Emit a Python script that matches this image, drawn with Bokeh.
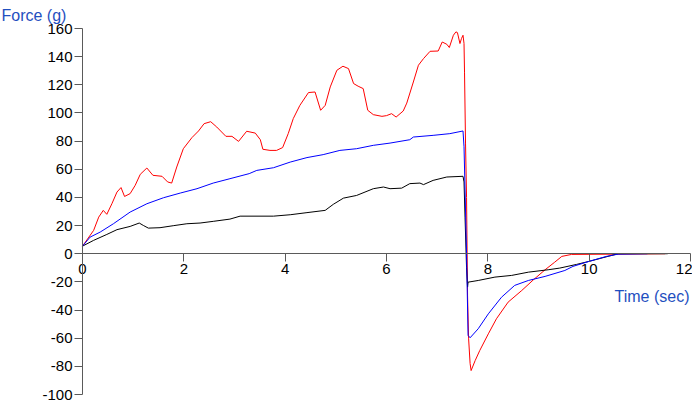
from bokeh.plotting import figure
from bokeh.models import Range1d, SingleIntervalTicker, Label, PrintfTickFormatter
from bokeh.embed import file_html
from bokeh.resources import INLINE

# ---- data (time in sec, force in g) ----
red_t = [0, 0.22, 0.32, 0.41, 0.48, 0.58, 0.68, 0.76, 0.83, 0.94,
         1.04, 1.14, 1.27, 1.39, 1.57, 1.68, 1.76, 1.86, 1.99, 2.16,
         2.29, 2.40, 2.53, 2.65, 2.83, 2.95, 3.08, 3.24, 3.41, 3.51,
         3.56, 3.70, 3.83, 3.95, 4.06, 4.16, 4.29, 4.46, 4.59, 4.70,
         4.79, 4.89, 5.02, 5.14, 5.25, 5.35, 5.44, 5.54, 5.63, 5.74,
         5.91, 6.00, 6.10, 6.19, 6.33, 6.40, 6.53, 6.63, 6.73, 6.86,
         7.02, 7.10, 7.19, 7.24, 7.32, 7.37, 7.40, 7.45, 7.48, 7.51,
         7.53, 7.54, 7.56, 7.58, 7.60, 7.62, 7.65, 7.67, 7.75, 7.84,
         8.01, 8.17, 8.40, 8.67, 8.90, 9.13, 9.32, 9.46, 9.65, 10.54,
         11.5]
red_f = [5.4, 16.6, 26, 30.8, 28, 35.5, 43.8, 47, 40.7, 42.7,
         48.6, 56.4, 60.9, 55.7, 55, 51, 50.2, 61.6, 74.6, 82.5,
         87.2, 92.4, 93.8, 90, 83.4, 83.4, 79.8, 87, 85.7, 81,
         74.2, 73.4, 73.4, 75.4, 85.3, 96, 105.4, 114.5, 114.9, 101.9,
         105.4, 118.5, 130.3, 133.2, 131.5, 120.9, 119, 117.3, 101.9, 98.8,
         97.6, 98.1, 99.5, 97.1, 101.4, 107, 122, 133.9, 138.6, 143.8,
         144, 150.4, 148.8, 146.5, 155.2, 157.6, 157.1, 149.3, 152.9, 155.2,
         149.3, 129, 78, 40, -30, -60, -78, -83, -75.9, -68.8,
         -56.9, -46.2, -34.4, -26.1, -18.5, -11.4, -6, -1.9, -0.5, -0.3,
         0]

blue_t = [0, 0.15, 0.35, 0.61, 0.94, 1.27, 1.60, 1.93, 2.26, 2.58,
          2.91, 3.29, 3.44, 3.77, 4.10, 4.43, 4.75, 5.08, 5.41, 5.74,
          6.07, 6.46, 6.53, 6.92, 7.25, 7.51, 7.53, 7.58, 7.61, 7.65,
          7.81, 8.01, 8.27, 8.53, 8.80, 9.13, 9.52, 9.68, 10.01, 10.34,
          10.57, 11.15]
blue_f = [5.4, 11.8, 15.4, 21.3, 29.6, 35.5, 39.8, 43.1, 46.2, 50.2,
          53.3, 56.9, 59.2, 61.1, 65.1, 68.3, 70.4, 73.4, 74.6, 77,
          78.6, 81, 82.9, 84.1, 85.3, 87.2, 76, 0, -58, -59.7,
          -53.3, -42.7, -30.9, -22.5, -19, -16.1, -11.9, -9, -5.3, -1.9,
          -0.3, 0]

black_t = [0, 0.22, 0.48, 0.68, 0.94, 1.12, 1.20, 1.30, 1.53, 1.79,
           2.06, 2.32, 2.58, 2.91, 3.11, 3.77, 4.10, 4.43, 4.79, 4.95,
           5.15, 5.41, 5.74, 5.94, 6.07, 6.30, 6.46, 6.66, 6.73, 6.92,
           7.19, 7.51, 7.53, 7.55, 7.58, 7.60, 7.61, 7.81, 8.14, 8.47,
           8.80, 9.19, 9.42, 9.75, 10.01, 10.57, 11.55]
black_f = [5.4, 9.5, 13.7, 17.1, 19.4, 21.8, 20.1, 18.2, 18.5, 19.9,
           21.3, 21.8, 23, 24.6, 26.7, 26.7, 27.7, 29.2, 30.8, 35.1,
           39.5, 41.4, 46.2, 47.4, 46.2, 46.6, 49.8, 50.2, 49.1, 52.1,
           54.5, 55, 51, 26, -10, -23.7, -20.2, -19, -16.6, -15.4,
           -13.1, -11.4, -10.2, -7.6, -5.3, 0, 0]

x_title = "Time (sec)"
y_title = "Force (g)"
x_axis_span = (0, 12)
y_axis_span = (-100, 160)

FONT = "Liberation Sans"
TITLE_BLUE = "#1f4fc0"
AXIS_GRAY = "#5a5a5a"

# layout: plotting area in pixels (axes cross at the origin)
W, H = 692, 404
LEFT, RIGHT, TOP, BOTTOM = 82, 2, 28, 10
sx = (W - LEFT - RIGHT) / (x_axis_span[1] - x_axis_span[0])
sy = (H - TOP - BOTTOM) / (y_axis_span[1] - y_axis_span[0])

p = figure(width=W, height=H,
           x_range=Range1d(x_axis_span[0] - LEFT / sx, x_axis_span[1] + RIGHT / sx),
           y_range=Range1d(y_axis_span[0] - BOTTOM / sy, y_axis_span[1] + TOP / sy),
           output_backend="svg", toolbar_location=None,
           min_border_left=0, min_border_right=0,
           min_border_top=0, min_border_bottom=0)

p.xgrid.visible = False
p.ygrid.visible = False
p.outline_line_color = None
p.background_fill_color = "white"
p.border_fill_color = "white"

p.line(red_t, red_f, line_color="#ff0000", line_width=1)
p.line(black_t, black_f, line_color="#000000", line_width=1)
p.line(blue_t, blue_f, line_color="#0000ff", line_width=1)

for ax, span in ((p.xaxis[0], x_axis_span), (p.yaxis[0], y_axis_span)):
    ax.fixed_location = 0
    ax.bounds = span
    ax.axis_line_color = AXIS_GRAY
    ax.major_tick_line_color = AXIS_GRAY
    ax.minor_tick_line_color = None
    ax.major_tick_in = 0
    ax.major_tick_out = 8
    ax.major_label_text_font = FONT
    ax.major_label_text_font_size = "15px"
    ax.major_label_text_color = "black"
    ax.major_label_standoff = 2
    ax.formatter = PrintfTickFormatter(format="%d")

p.xaxis[0].ticker = SingleIntervalTicker(interval=2)
p.yaxis[0].ticker = SingleIntervalTicker(interval=20)
p.xaxis[0].major_label_text_align = "right"

p.add_layout(Label(x=1, y=H - 15, x_units="screen", y_units="screen",
                   text=y_title, text_font=FONT, text_font_size="16px",
                   text_color=TITLE_BLUE, text_baseline="alphabetic",
                   text_align="left"))
p.add_layout(Label(x=W - 3, y=H - 296, x_units="screen", y_units="screen",
                   text=x_title, text_font=FONT, text_font_size="16px",
                   text_color=TITLE_BLUE, text_baseline="alphabetic",
                   text_align="right"))

open("out.html", "w").write(file_html(p, INLINE))
